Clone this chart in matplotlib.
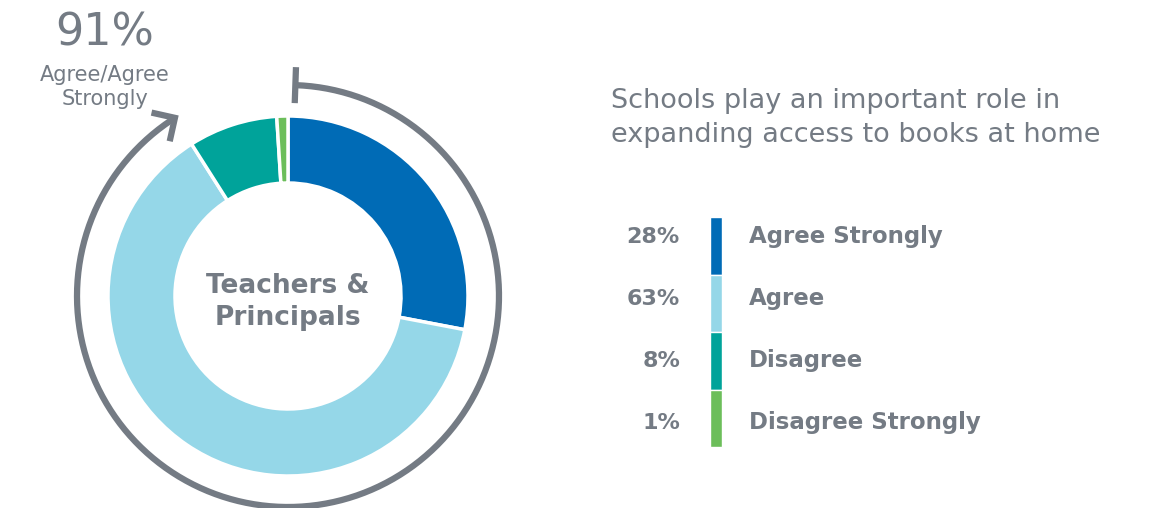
import matplotlib.pyplot as plt
import numpy as np

# Данные
labels = ["Agree Strongly", "Agree", "Disagree", "Disagree Strongly"]
values = [28, 63, 8, 1]
colors = ["#006BB6", "#95D7E8", "#00A39A", "#6CBE5A"]
agree_total = 91
title = "Schools play an important role in\nexpanding access to books at home"
center_label = "Teachers &\nPrincipals"

gray = "#747B84"
plt.rcParams["font.family"] = ["DejaVu Sans"]

W, H = 1158, 508
fig = plt.figure(figsize=(W / 100, H / 100), dpi=100)
ax = fig.add_axes([0, 0, 1, 1])

cx, cy = 288, H - 296
ax.pie(values, colors=colors, startangle=90, counterclock=False,
       radius=180, center=(cx, cy),
       wedgeprops=dict(width=67, edgecolor="white", linewidth=2.5))

# Дуга вокруг кольца (доля согласных)
r_arc = 211
start = 88
end = 90 - 360 * agree_total / 100
theta = np.radians(np.linspace(start, end, 300))
ax.plot(cx + r_arc * np.cos(theta), cy + r_arc * np.sin(theta),
        color=gray, lw=4.5, solid_capstyle="butt")

# Засечка в начале дуги
t0 = np.radians(start)
ax.plot([cx + (r_arc - 18) * np.cos(t0), cx + (r_arc + 18) * np.cos(t0)],
        [cy + (r_arc - 18) * np.sin(t0), cy + (r_arc + 18) * np.sin(t0)],
        color=gray, lw=4.5, solid_capstyle="butt")

# Наконечник стрелки
te = np.radians(end)
tip = np.array([cx + r_arc * np.cos(te), cy + r_arc * np.sin(te)])
direction = np.array([np.sin(te), -np.cos(te)])
arms = []
for a in (np.radians(45), np.radians(-45)):
    rot = np.array([[np.cos(a), -np.sin(a)], [np.sin(a), np.cos(a)]])
    arms.append(tip - 24 * rot @ direction)
ax.plot([arms[0][0], tip[0], arms[1][0]], [arms[0][1], tip[1], arms[1][1]],
        color=gray, lw=4.5, solid_joinstyle="miter", solid_capstyle="butt")

ax.text(cx, cy - 6, center_label, ha="center", va="center", fontsize=19,
        fontweight="bold", color=gray, linespacing=1.3)

ax.text(105, H - 33, f"{agree_total}%", ha="center", va="center",
        fontsize=32, color=gray)
ax.text(105, H - 87, "Agree/Agree\nStrongly", ha="center", va="center",
        fontsize=15, color=gray, linespacing=1.25)

ax.text(611, H - 118, title, ha="left", va="center", fontsize=19.5,
        color=gray, linespacing=1.4)

# Легенда
seg_h = 57.5
top = H - 217
for i, (lab, val, col) in enumerate(zip(labels, values, colors)):
    y0 = top - (i + 1) * seg_h
    ax.bar(716, seg_h, width=12, bottom=y0, color=col, edgecolor="white",
           linewidth=1)
    ym = H - (237 + 62 * i)
    ax.text(680, ym, f"{val}%", ha="right", va="center", fontsize=16,
            fontweight="bold", color=gray)
    ax.text(749, ym, lab, ha="left", va="center", fontsize=16.5,
            fontweight="bold", color=gray)

ax.set_xlim(0, W)
ax.set_ylim(0, H)
ax.set_aspect("equal")
ax.axis("off")
fig.savefig("out.png", dpi=100)
